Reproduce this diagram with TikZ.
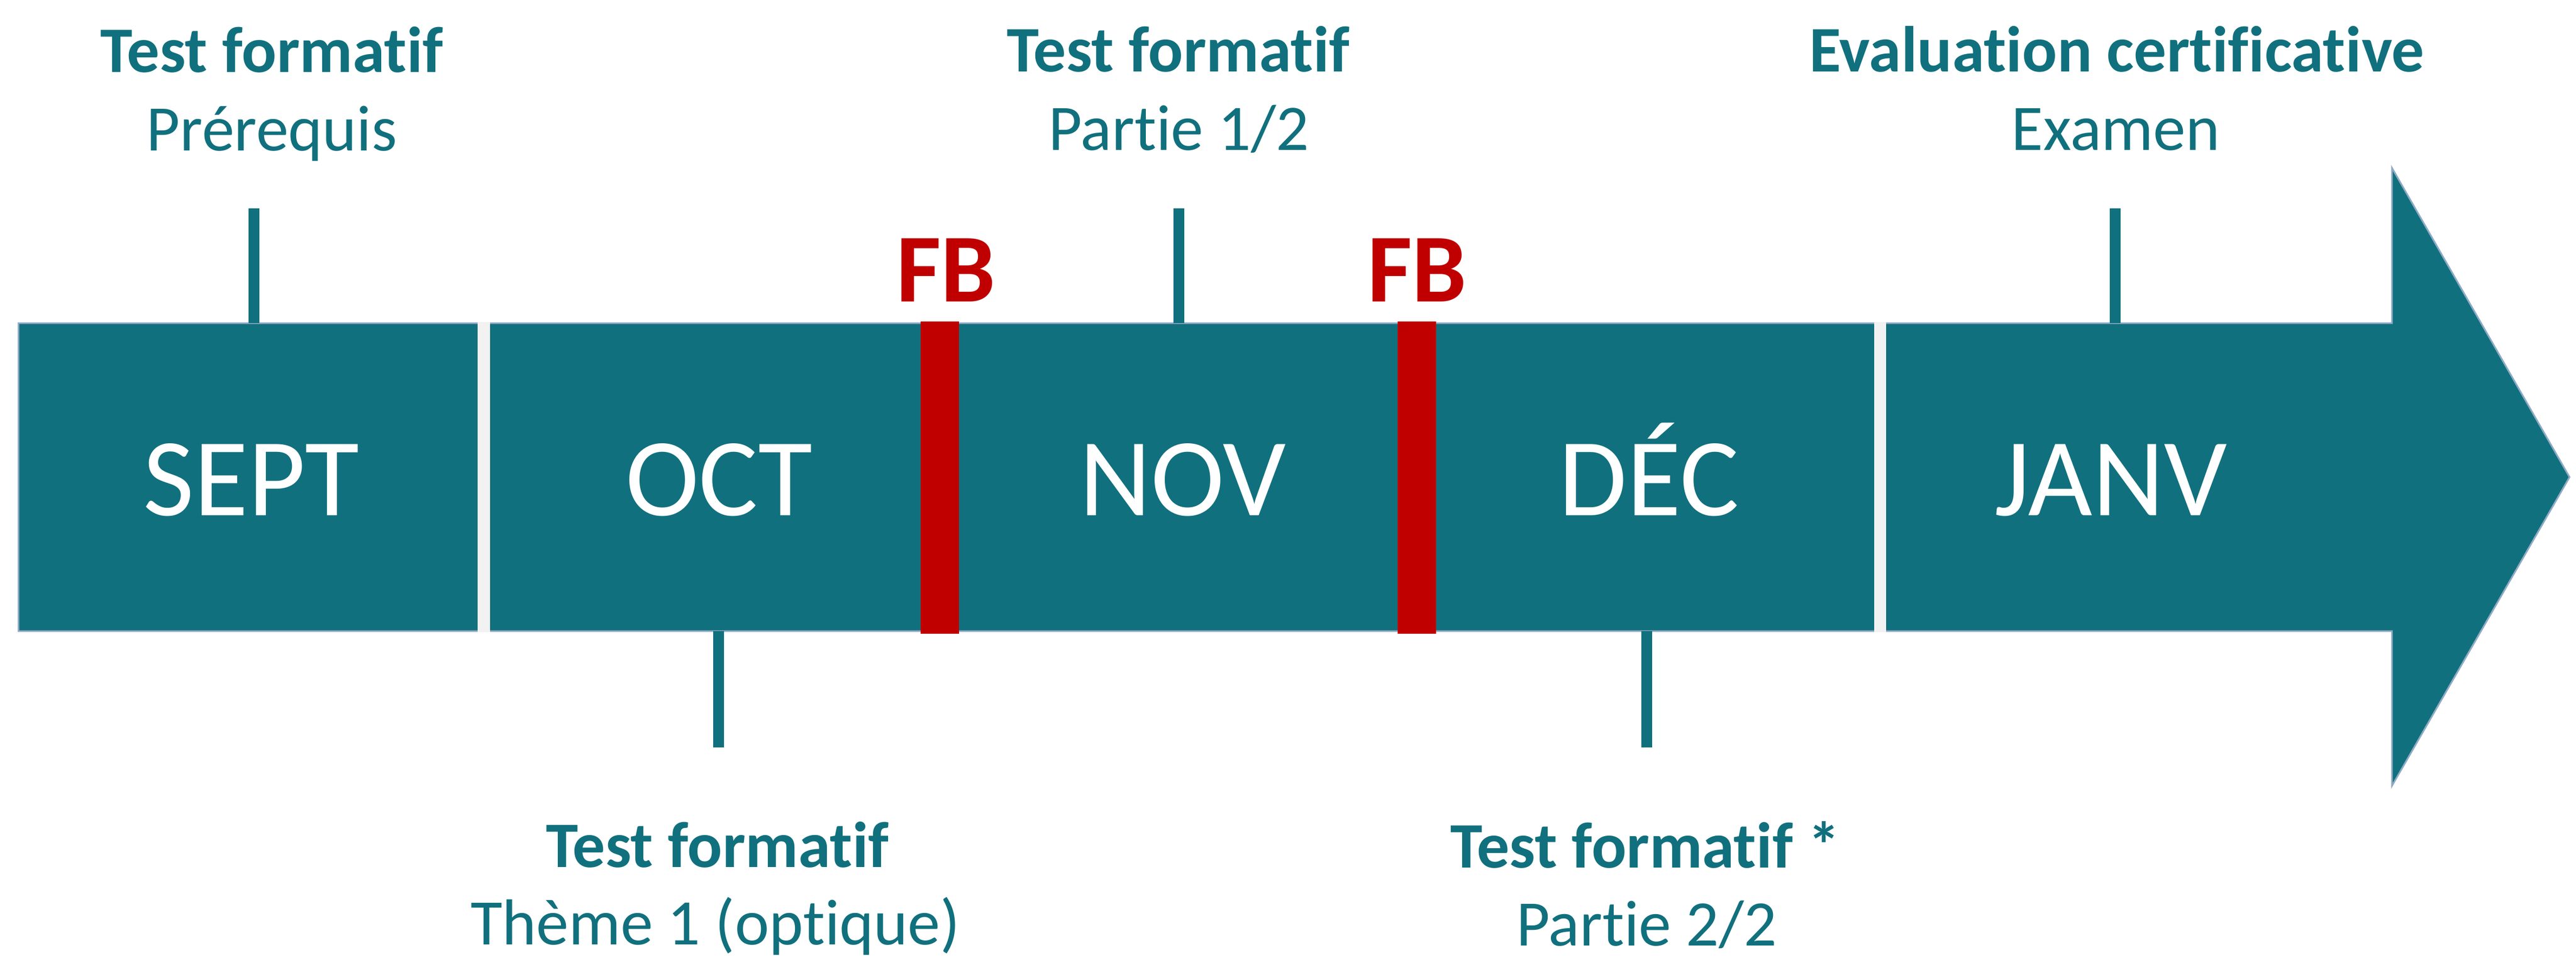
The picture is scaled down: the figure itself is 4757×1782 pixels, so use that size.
\documentclass[tikz,border=0pt]{standalone}
\usepackage{fontspec}
\setmainfont{Carlito}[Ligatures=NoCommon]
\definecolor{barc}{RGB}{17,112,125}
\definecolor{fbred}{RGB}{192,0,0}
\definecolor{gapc}{RGB}{242,242,242}
\definecolor{edgec}{RGB}{143,170,196}
\begin{document}
\begin{tikzpicture}[x=0.1pt,y=-0.1pt,
  month/.style={anchor=base,inner sep=0pt,text=white,font=\fontsize{20.5}{24}\selectfont},
  fbtext/.style={anchor=base,inner sep=0pt,text=fbred,font=\fontsize{18}{22}\selectfont\bfseries},
  ttl/.style={anchor=base,inner sep=0pt,text=barc,font=\fontsize{12}{14}\selectfont\bfseries},
  sub/.style={anchor=base,inner sep=0pt,text=barc,font=\fontsize{12}{14}\selectfont},
  tickline/.style={draw=barc,line width=2pt},
  fbbar/.style={fill=fbred},
  gapbar/.style={fill=gapc}]
\useasboundingbox (0,0) rectangle (4757,1782);
% main arrow bar
\path[fill=barc,draw=edgec,line width=0.3pt] (34,597) -- (4417,597) -- (4417,310) -- (4745,881.5) -- (4417,1452) -- (4417,1166) -- (34,1166) -- cycle;
% separators
\path[gapbar] (882,595) rectangle (905,1168);
\path[gapbar] (3461,595) rectangle (3483,1168);
% feedback bars
\path[fbbar] (1700,594) rectangle (1771,1171);
\path[fbbar] (2581,594) rectangle (2652,1171);
\node[fbtext] (fb1) at (1747,557) {FB};
\node[fbtext] (fb2) at (2617,557) {FB};
% months
\node[month] (sept) at (464,952) {SEPT};
\node[month] (oct) at (1328,952) {OCT};
\node[month] (nov) at (2184,952) {NOV};
\node[month] (dec) at (3045,952) {DÉC};
\node[month] (janv) at (3898,952) {JANV};
% ticks
\coordinate (t1a) at (469,385); \coordinate (t1b) at (469,597);
\coordinate (t2a) at (1327,1166); \coordinate (t2b) at (1327,1381);
\coordinate (t3a) at (2177,385); \coordinate (t3b) at (2177,597);
\coordinate (t4a) at (3041,1166); \coordinate (t4b) at (3041,1381);
\coordinate (t5a) at (3906,385); \coordinate (t5b) at (3906,597);
\draw[tickline] (t1a) -- (t1b);
\draw[tickline] (t2a) -- (t2b);
\draw[tickline] (t3a) -- (t3b);
\draw[tickline] (t4a) -- (t4b);
\draw[tickline] (t5a) -- (t5b);
% labels
\node[ttl] (l1t) at (502,133) {Test formatif};
\node[sub] (l1s) at (502,278) {Prérequis};
\node[ttl] (l2t) at (1325,1602) {Test formatif};
\node[sub] (l2s) at (1321,1745) {Thème 1 (optique)};
\node[ttl] (l3t) at (2176,132) {Test formatif};
\node[sub] (l3s) at (2177,277) {Partie 1/2};
\node[ttl] (l4t) at (3038,1603) {Test formatif *};
\node[sub] (l4s) at (3041,1747) {Partie 2/2};
\node[ttl] (l5t) at (3909,132) {Evaluation certificative};
\node[sub] (l5s) at (3907,277) {Examen};
\end{tikzpicture}
\end{document}
